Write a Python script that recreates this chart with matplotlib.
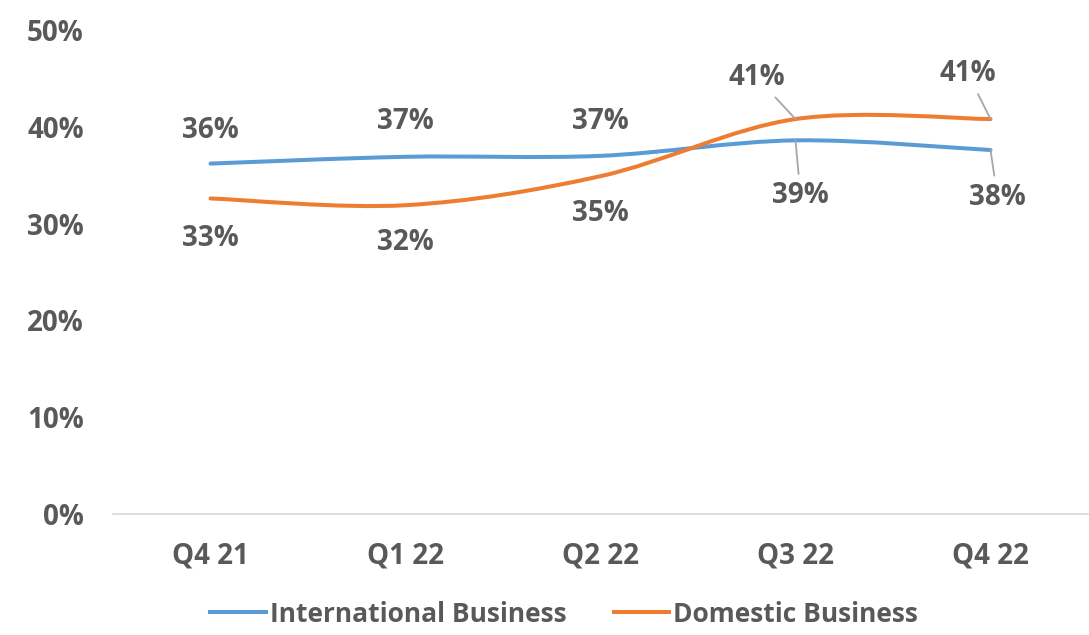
import matplotlib
matplotlib.use("Agg")
import numpy as np
import matplotlib.pyplot as plt
from matplotlib.path import Path
from matplotlib.patches import PathPatch
from matplotlib.lines import Line2D
from matplotlib.ticker import PercentFormatter

# data
quarters = ["Q4 21", "Q1 22", "Q2 22", "Q3 22", "Q4 22"]
intl = [0.362, 0.369, 0.370, 0.386, 0.376]
dom = [0.326, 0.319, 0.349, 0.408, 0.408]

# label offsets in pixels (dx, dy) relative to the point, y up
intl_off = [(0, 33), (0, 35), (0, 34), (5, -55), (7, -47)]
dom_off = [(0, -40), (0, -37), (0, -37), (-39, 42), (-23, 46)]
intl_lead = [False, False, False, True, True]
dom_lead = [False, False, False, True, True]

BLUE = "#5B9BD5"
ORANGE = "#ED7D31"
TXT = "#595959"

plt.rcParams["font.family"] = ["Open Sans", "DejaVu Sans"]
plt.rcParams["font.weight"] = "bold"

fig = plt.figure(figsize=(10.89, 6.35), dpi=100)
ax = fig.add_axes([113 / 1089, 1 - 514 / 635, 975 / 1089, 484 / 635])


def smooth_path(xs, ys):
    # excel-like smoothed line: bezier segments with catmull-rom control points
    pts = np.column_stack([xs, ys]).astype(float)
    ext = np.vstack([pts[0], pts, pts[-1]])
    verts = [pts[0]]
    codes = [Path.MOVETO]
    for i in range(len(pts) - 1):
        p0, p1, p2, p3 = ext[i], ext[i + 1], ext[i + 2], ext[i + 3]
        c1 = p1 + (p2 - p0) / 6
        c2 = p2 - (p3 - p1) / 6
        verts += [c1, c2, p2]
        codes += [Path.CURVE4] * 3
    return Path(verts, codes)


x = np.arange(len(quarters))
for vals, col in [(intl, BLUE), (dom, ORANGE)]:
    ax.add_patch(PathPatch(smooth_path(x, vals), fill=False, edgecolor=col,
                           lw=2.9, capstyle="round", zorder=3))

px = 72 / 100
for vals, offs, lead in [(intl, intl_off, intl_lead), (dom, dom_off, dom_lead)]:
    for i, v in enumerate(vals):
        dx, dy = offs[i]
        ap = None
        if lead[i]:
            ap = dict(arrowstyle="-", color="#A6A6A6", lw=1.3, shrinkA=3, shrinkB=0)
        ax.annotate(f"{round(v * 100)}%", (x[i], v), xytext=(dx * px, dy * px),
                    textcoords="offset points", ha="center", va="center",
                    fontsize=20, fontweight="bold", color=TXT, arrowprops=ap,
                    zorder=4)

ax.set_xlim(-0.5, len(quarters) - 0.5)
ax.set_ylim(0, 0.5)
ax.set_yticks(np.arange(0, 0.51, 0.1))
ax.yaxis.set_major_formatter(PercentFormatter(1.0, decimals=0))
ax.set_xticks(x)
ax.set_xticklabels(quarters)
ax.tick_params(axis="both", length=0, labelsize=20, labelcolor=TXT)
ax.tick_params(axis="y", pad=21)
ax.tick_params(axis="x", pad=20)
for lab in ax.get_xticklabels() + ax.get_yticklabels():
    lab.set_fontweight("bold")

for s in ["top", "right", "left"]:
    ax.spines[s].set_visible(False)
ax.spines["bottom"].set_color("#D9D9D9")
ax.spines["bottom"].set_linewidth(1.2)

handles = [Line2D([], [], color=BLUE, lw=2.9),
           Line2D([], [], color=ORANGE, lw=2.9)]
leg = fig.legend(handles, ["International Business", "Domestic Business"],
                 loc="center", bbox_to_anchor=(564 / 1089, 1 - 614 / 635),
                 ncol=2, frameon=False, fontsize=19, handlelength=2.1,
                 handletextpad=0.15, columnspacing=1.8)
for t in leg.get_texts():
    t.set_color(TXT)
    t.set_fontweight("bold")

fig.savefig("out.png", dpi=100)
